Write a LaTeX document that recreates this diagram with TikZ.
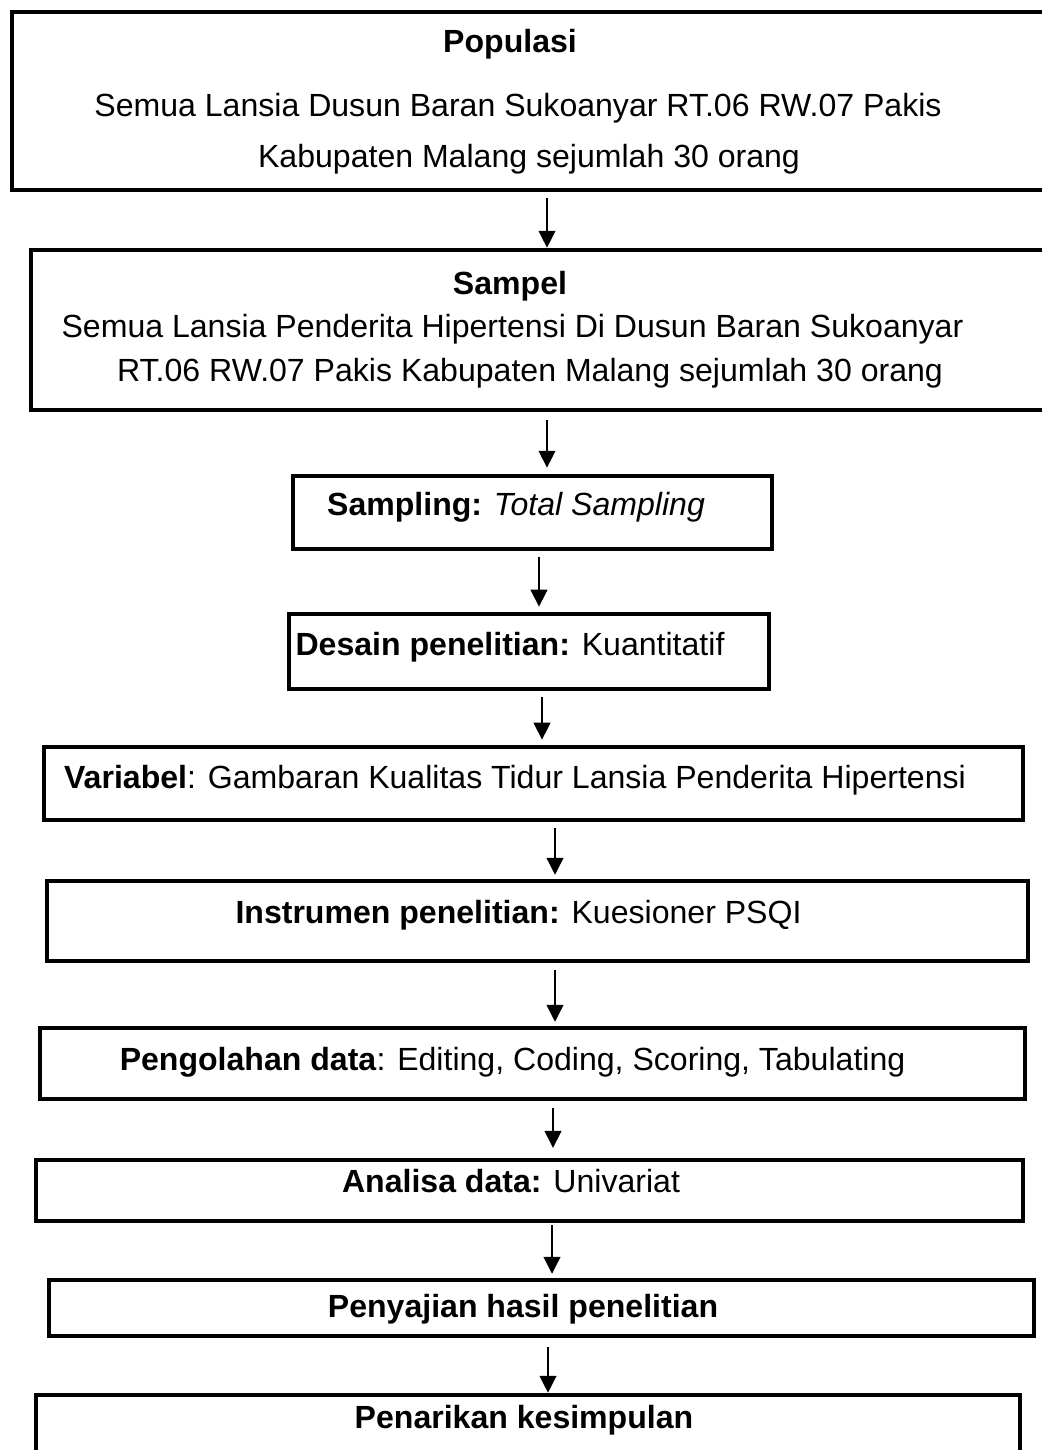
\documentclass[tikz,border=0pt]{standalone}
\usepackage{fontspec}
\setmainfont{Liberation Sans}
\usetikzlibrary{arrows.meta}

\tikzset{
	box/.style 2 args={draw, rectangle, line width=3.3pt, inner sep=0pt,
		minimum width=#1*0.025cm, minimum height=#2*0.025cm},
	txt/.style={anchor=base, inner sep=0pt, font=\fontsize{22.8}{27}\selectfont},
	arr/.style={-{Triangle[length=12pt,width=12pt]}, line width=0.9pt}
}

\begin{document}
\begin{tikzpicture}[x=0.025cm, y=-0.025cm]
		\useasboundingbox (0,0) rectangle (1041,1450);
		
		% boxes
		\node[box={1048}{178}] (pop) at (536,101) {};
		\node[box={1029}{160}] (sam) at (545.5,330) {};
		\node[box={479}{73}] (tek) at (532.5,512.5) {};
		\node[box={480}{75}] (des) at (529,651.5) {};
		\node[box={979}{73}] (var) at (533.5,783.5) {};
		\node[box={981}{80}] (ins) at (537.5,921) {};
		\node[box={985}{71}] (olah) at (532.5,1063.5) {};
		\node[box={987}{61}] (ana) at (529.5,1190.5) {};
		\node[box={985}{56}] (saji) at (541.5,1308) {};
		\node[box={984}{75}] (simp) at (528,1432.5) {};
		
		% texts
		\node[txt] (popA) at (510,53) {\bfseries Populasi};
		\node[txt] (popB) at (518,117) {Semua Lansia Dusun Baran Sukoanyar RT.06 RW.07 Pakis};
		\node[txt] (popC) at (529,168) {Kabupaten Malang sejumlah 30 orang};
		\node[txt] (samA) at (510,295) {\bfseries Sampel};
		\node[txt] (samB) at (512.5,338) {Semua Lansia Penderita Hipertensi Di Dusun Baran Sukoanyar};
		\node[txt] (samC) at (530,382) {RT.06 RW.07 Pakis Kabupaten Malang sejumlah 30 orang};
		\node[txt] (tekA) at (516,515) {\textbf{Sampling:} \textit{Total Sampling}};
		\node[txt] (desA) at (510,655) {\textbf{Desain penelitian:} Kuantitatif};
		\node[txt] (varA) at (515,788) {\textbf{Variabel}: Gambaran Kualitas Tidur Lansia Penderita Hipertensi};
		\node[txt] (insA) at (518.5,923) {\textbf{Instrumen penelitian:} Kuesioner PSQI};
		\node[txt] (olahA) at (512.5,1070) {\textbf{Pengolahan data}: Editing, Coding, Scoring, Tabulating};
		\node[txt] (anaA) at (511,1192) {\textbf{Analisa data:} Univariat};
		\node[txt] (sajiA) at (523,1317) {\bfseries Penyajian hasil penelitian};
		\node[txt] (simpA) at (524,1428) {\bfseries Penarikan kesimpulan};
		
		% arrows
		\coordinate (c1) at (547,0);
		\coordinate (c2) at (547,0);
		\coordinate (c3) at (539,0);
		\coordinate (c4) at (542,0);
		\coordinate (c5) at (555,0);
		\coordinate (c6) at (555,0);
		\coordinate (c7) at (553,0);
		\coordinate (c8) at (552,0);
		\coordinate (c9) at (548,0);
		\draw[arr, shorten <=4.3pt] (pop.south -| c1) -- (sam.north -| c1);
		\draw[arr, shorten <=5.7pt, shorten >=4.3pt] (sam.south -| c2) -- (tek.north -| c2);
		\draw[arr, shorten <=4.3pt, shorten >=3.6pt] (tek.south -| c3) -- (des.north -| c3);
		\draw[arr, shorten <=4.3pt, shorten >=3.6pt] (des.south -| c4) -- (var.north -| c4);
		\draw[arr, shorten <=4.3pt, shorten >=2.8pt] (var.south -| c5) -- (ins.north -| c5);
		\draw[arr, shorten <=5pt, shorten >=2.8pt] (ins.south -| c6) -- (olah.north -| c6);
		\draw[arr, shorten <=5pt, shorten >=7pt] (olah.south -| c7) -- (ana.north -| c7);
		\draw[arr, shorten <=1.4pt, shorten >=2.8pt] (ana.south -| c8) -- (saji.north -| c8);
		\draw[arr, shorten <=6.4pt] (saji.south -| c9) -- (simp.north -| c9);
	\end{tikzpicture}
\end{document}
